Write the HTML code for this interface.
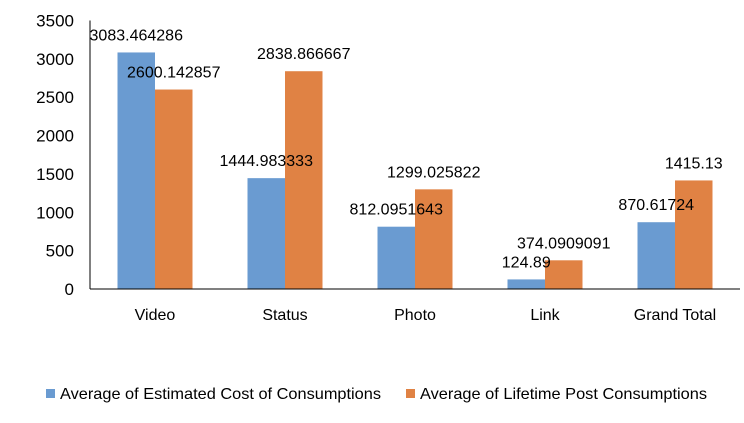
<!DOCTYPE html>
<html><head><meta charset="utf-8"><style>
body{margin:0;background:#fff;font-family:"Liberation Sans",sans-serif}
text{font-family:"Liberation Sans",sans-serif;fill:#000}
</style></head><body>
<svg id="chart" width="744" height="418" xmlns="http://www.w3.org/2000/svg"></svg>
<script>
const categories=["Video","Status","Photo","Link","Grand Total"];
const costValues=[3083.464286,1444.983333,812.0951643,124.89,870.61724];
const lifetimeValues=[2600.142857,2838.866667,1299.025822,374.0909091,1415.13];
const costLabels=["3083.464286","1444.983333","812.0951643","124.89","870.61724"];
const lifetimeLabels=["2600.142857","2838.866667","1299.025822","374.0909091","1415.13"];
const yTicks=[0,500,1000,1500,2000,2500,3000,3500];
const seriesNames=["Average of Estimated Cost of Consumptions","Average of Lifetime Post Consumptions"];
const colors=["#6a9bd1","#e08244"];

const svg=document.getElementById('chart');
const NS="http://www.w3.org/2000/svg";
const x0=90,x1=740,yBase=289,yTop=20.5,yMax=3500;
const band=(x1-x0)/categories.length, bw=37.5;
const y=v=>yBase-(v/yMax)*(yBase-yTop);
const xc=i=>x0+band*(i+0.5);
function mk(tag,attrs){const e=document.createElementNS(NS,tag);for(const k in attrs)e.setAttribute(k,attrs[k]);svg.appendChild(e);return e;}

yTicks.forEach(t=>{
  const e=mk('text',{x:74,y:y(t)+6,'text-anchor':'end','font-size':17});
  e.textContent=t;
  
  
});
const seriesSets=[[costValues,costLabels,0],[lifetimeValues,lifetimeLabels,1]];
categories.forEach((c,i)=>{
  seriesSets.forEach(([vals,labs,s])=>{
    const bx=s===0?xc(i)-bw:xc(i);
    const r=mk('rect',{x:bx,y:y(vals[i]),width:bw,height:yBase-y(vals[i]),fill:colors[s]});
    
    
  });
  const l=mk('text',{x:xc(i),y:320,'text-anchor':'middle','font-size':16});
  l.textContent=c;
  
  
});
categories.forEach((c,i)=>{
  seriesSets.forEach(([vals,labs,s])=>{
    const bx=s===0?xc(i)-bw:xc(i);
    const t=mk('text',{x:bx+bw/2,y:y(vals[i])-12,'text-anchor':'middle','font-size':16});
    t.textContent=labs[i];
    
    
  });
});
const ax=mk('line',{x1:x0,y1:yTop,x2:x0,y2:yBase,stroke:'#000','stroke-width':1});


const bx=mk('line',{x1:x0,y1:yBase,x2:x1,y2:yBase,stroke:'#000','stroke-width':1});



const legX=[46,406];
const legLen=[321,287];
seriesNames.forEach((n,s)=>{
  const r=mk('rect',{x:legX[s],y:389,width:9,height:9,fill:colors[s]});
  
  
  const t=mk('text',{x:legX[s]+14,y:399,'font-size':16,textLength:legLen[s],lengthAdjust:'spacingAndGlyphs'});
  t.textContent=n;
  
  
});
</script>
</body></html>
